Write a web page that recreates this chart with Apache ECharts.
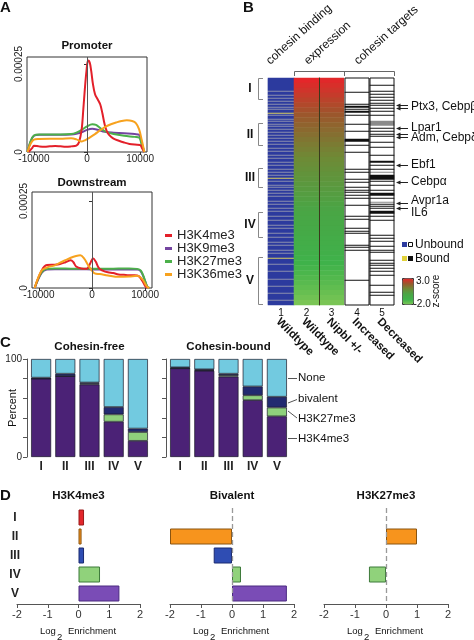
<!DOCTYPE html>
<html><head><meta charset="utf-8">
<script src="https://cdn.jsdelivr.net/npm/echarts@6/dist/echarts.min.js"></script>
<style>html,body{margin:0;padding:0;background:#fff}#c{width:474px;height:640px}</style>
</head><body><div id="c"></div>
<script>
// ================= DATA =================
// Panel A: histone mark profiles (position bp, density)
const histMarks = ['H3K4me3','H3K9me3','H3K27me3','H3K36me3'];
const promoterH3K4me3 = [[-11000,0],[-10300,1.2e-5],[-10000,1.8e-5],[-9000,1.6e-5],[-8000,1.5e-5],[-7000,1.6e-5],[-6000,1.7e-5],[-5000,1.6e-5],[-4000,1.5e-5],[-3000,1.6e-5],[-2000,1.8e-5],[-1500,2.8e-5],[-1000,6.5e-5],[-700,12e-5],[-400,18e-5],[-100,23e-5],[200,26e-5],[500,25.5e-5],[800,23e-5],[1100,19.5e-5],[1500,16.5e-5],[2000,15e-5],[2500,13.5e-5],[2900,11e-5],[3300,8e-5],[3700,6e-5],[4200,4.8e-5],[5000,3.8e-5],[6000,3.2e-5],[7000,2.7e-5],[8000,2.3e-5],[9000,2.1e-5],[10000,2.0e-5],[10400,1.0e-5],[10800,0]];
const promoterH3K9me3 = [[-11200,0],[-10600,3.0e-5],[-10000,4.6e-5],[-9000,4.9e-5],[-7000,4.9e-5],[-5000,4.9e-5],[-3000,5.0e-5],[-2000,5.2e-5],[-1000,5.6e-5],[0,6.3e-5],[1000,6.6e-5],[2000,6.3e-5],[3000,5.8e-5],[4000,5.6e-5],[5000,5.5e-5],[7000,5.3e-5],[9000,5.1e-5],[9800,4.9e-5],[10300,2.5e-5],[10800,0]];
const promoterH3K27me3 = [[-11200,0],[-10600,3.2e-5],[-10000,4.7e-5],[-9000,5.0e-5],[-7000,5.0e-5],[-5000,5.0e-5],[-3000,5.1e-5],[-2000,5.5e-5],[-1000,6.3e-5],[0,7.3e-5],[1000,7.9e-5],[1700,7.7e-5],[2500,6.8e-5],[3500,5.8e-5],[5000,5.1e-5],[7000,4.6e-5],[9000,4.3e-5],[9800,4.1e-5],[10300,2.2e-5],[10800,0]];
const promoterH3K36me3 = [[-11200,0],[-10600,2.4e-5],[-10000,3.5e-5],[-9000,3.7e-5],[-7000,3.8e-5],[-5000,3.8e-5],[-3000,3.9e-5],[-2000,3.6e-5],[-1000,3.0e-5],[-300,3.4e-5],[500,4.1e-5],[1500,5.1e-5],[2500,6.2e-5],[3500,7.2e-5],[4500,7.9e-5],[5500,8.4e-5],[6500,8.8e-5],[7500,9.0e-5],[8500,8.8e-5],[9200,8.2e-5],[9800,6.5e-5],[10300,3.5e-5],[10800,0]];
const downstreamH3K4me3 = [[-10800,0],[-9500,5.0e-5],[-8500,6.6e-5],[-7000,6.7e-5],[-6000,6.9e-5],[-5000,7.4e-5],[-4000,8.0e-5],[-3500,7.4e-5],[-3000,6.2e-5],[-2000,5.6e-5],[-1000,5.5e-5],[-300,7.2e-5],[200,8.5e-5],[700,7.6e-5],[1300,5.7e-5],[2000,5.0e-5],[3000,4.5e-5],[4000,4.3e-5],[5000,3.9e-5],[6000,3.8e-5],[7000,3.7e-5],[8000,3.7e-5],[8800,3.4e-5],[9500,2.0e-5],[10000,0.6e-5],[10400,0]];
const downstreamH3K9me3 = [[-10800,0],[-9500,4.3e-5],[-8500,5.3e-5],[-7000,5.4e-5],[-5000,5.4e-5],[-3000,5.4e-5],[-1000,5.4e-5],[1000,5.3e-5],[3000,5.3e-5],[5000,5.3e-5],[7000,5.3e-5],[8500,5.3e-5],[9200,4.8e-5],[9800,2.8e-5],[10400,0.4e-5],[10800,0]];
const downstreamH3K27me3 = [[-10800,0],[-9500,4.5e-5],[-8500,5.5e-5],[-7000,5.6e-5],[-5000,5.6e-5],[-3000,5.5e-5],[-1000,5.5e-5],[1000,5.5e-5],[3000,5.5e-5],[5000,5.6e-5],[7000,5.6e-5],[8500,5.5e-5],[9200,5.0e-5],[9800,3.0e-5],[10400,0.4e-5],[10800,0]];
const downstreamH3K36me3 = [[-10800,0],[-9500,5.0e-5],[-8500,5.9e-5],[-7000,6.5e-5],[-6000,7.3e-5],[-5000,8.0e-5],[-4000,8.7e-5],[-3000,9.2e-5],[-2200,9.4e-5],[-1500,8.5e-5],[-700,6.5e-5],[0,5.0e-5],[500,4.2e-5],[1500,4.0e-5],[3000,3.6e-5],[5000,3.2e-5],[7000,3.3e-5],[8500,3.5e-5],[9500,2.5e-5],[10300,0.5e-5],[10800,0]];
const profileTicks = [-10000, 0, 10000];
const densityTicks = [0, 0.00025];

// Panel B: ranked genes (rows), cohesin binding, expression z-scores, targets
const N_ROWS = 227;
const boundRows = [13,17,20,23,26,29,31,35,37,41,43,46,48,51,54,57,60,63,66,70,73,77,80,84,87,91,94,97,100,103,107,109,112,115,118,123,126,130,133,138,142,147,150,155,159,164,167,172,175,180,186,193,201,208,215,222];
const boundStrongRows = [35,100,180];
const exprWildtype = [3.0,2.86,2.72,2.58,2.44,2.3,2.16,2.03,1.9,1.78,1.66,1.54,1.42,1.31,1.2,1.09,0.98,0.88,0.78,0.68,0.58,0.48,0.39,0.3,0.21,0.12,0.03,-0.06,-0.15,-0.24,-0.33,-0.42,-0.51,-0.6,-0.7,-0.8,-0.9,-1.0,-1.1,-1.2,-1.31,-1.42,-1.54,-1.66,-1.8,-1.96];
const exprNipbl = [2.95,2.83,2.7,2.57,2.43,2.29,2.15,2.02,1.9,1.77,1.65,1.53,1.42,1.3,1.19,1.08,0.98,0.88,0.78,0.68,0.58,0.49,0.39,0.3,0.21,0.12,0.03,-0.06,-0.15,-0.24,-0.33,-0.42,-0.51,-0.61,-0.7,-0.8,-0.9,-1.0,-1.1,-1.21,-1.31,-1.42,-1.54,-1.67,-1.81,-1.97];
const increasedRows = [14,26,28,29,31,33,34,37,46,53,61,62,63,67,74,91,94,101,104,109,112,114,117,120,127,138,141,150,153,155,167,169,172,202];
const decreasedRows = [7,13,16,19,22,25,27,30,33,37,50,53,56,58,64,69,77,83,84,87,91,97,98,99,100,101,103,107,112,115,116,117,120,126,128,130,133,134,135,138,142,157,160,163,168,172,174,182,185,187,190,193,197,207,214,217];
const decreasedWeakRows = [43,44,45,46,47,94,124];
const columnNumbers = ['1','2','3','4','5'];
const columnNames = ['Wildtype','Wildtype','Nipbl +/-','Increased','Decreased'];
const clusterNames = ['I','II','III','IV','V'];
const clusterRows = [[0,22],[45,68],[90,110],[134,160],[179,227]];
const geneNames = ['Ptx3, Cebpβ','Lpar1','Adm, Cebpδ','Ebf1','Cebpα','Avpr1a','IL6'];
const geneArrowRows = [[26,29],[49],[55,58],[86],[103],[124],[129]];
const geneLabelRows = [28,49,59,86,103,122,134];

// Panel C: percent of genes per class
const classes = ['I','II','III','IV','V'];
const freeH3K4me3 = [80,82.5,74,36,16.5];
const freeH3K27me3 = [0,0,1,7.5,9];
const freeBivalent = [1,2.5,1,7.5,3.5];
const freeNone = [19,15,24,49,71];
const boundH3K4me3 = [90.5,88,82,58,41.5];
const boundH3K27me3 = [0,0.5,1.5,5,9];
const boundBivalent = [1,1,1.5,9,11];
const boundNone = [8.5,10.5,15,28,38.5];

// Panel D: log2 enrichment
const enrichH3K4me3 = [0.18,0.1,0.18,0.7,1.33];
const enrichBivalent = [null,-2.0,-0.59,0.29,1.77];
const enrichH3K27me3 = [null,1.0,null,-0.55,null];

// ================= LAYOUT / STYLE =================
const FONT = '"Liberation Sans", Arial, Helvetica, sans-serif';
const markColors = {H3K4me3:'#e3202a', H3K9me3:'#7444a0', H3K27me3:'#4cb04a', H3K36me3:'#f7a21e'};
const BT = 78, BH = 227;
const bCols = [{left:268,w:26},{left:294,w:25},{left:319,w:25},{left:345,w:24},{left:370,w:24}];
const dRowColors = ['#e3262b','#f7941d','#2f4db3','#90d27b','#7a4cb6'];
const dRowBorders = ['#9a1a1a','#8a5410','#1a2a70','#3d7a3a','#4a2a80'];
const rowY = r => BT + (r + 0.5) * BH / N_ROWS;

const grid = [], xAxis = [], yAxis = [], series = [];
function addGrid(g){ grid.push(g); return grid.length - 1; }

// ---- Panel A ----
const aGrids = [
  addGrid({left:27, top:57, width:120, height:95, show:true, borderColor:'#333', borderWidth:1}),
  addGrid({left:32, top:192, width:120, height:96, show:true, borderColor:'#333', borderWidth:1})
];
const aMax = [0.00027, 0.000276];
aGrids.forEach((gi, k) => {
  xAxis.push({gridIndex:gi, type:'value', min:-11300, max:11300, axisLine:{show:false}, splitLine:{show:false},
    axisTick:{show:true, length:3, customValues:profileTicks, lineStyle:{color:'#333'}},
    axisLabel:{customValues:profileTicks, fontSize:10, color:'#222', margin:2, formatter:v=>String(v)}});
  yAxis.push({gridIndex:gi, type:'value', min:0, max:aMax[k], axisLine:{show:false}, splitLine:{show:false},
    axisTick:{show:true, length:3, customValues:densityTicks, lineStyle:{color:'#333'}},
    axisLabel:{customValues:densityTicks, rotate:90, fontSize:10, color:'#222', margin:3,
      formatter:v=> v===0 ? '0' : String(v)}});
});
const profiles = [
  {H3K9me3:promoterH3K9me3, H3K27me3:promoterH3K27me3, H3K4me3:promoterH3K4me3, H3K36me3:promoterH3K36me3},
  {H3K9me3:downstreamH3K9me3, H3K27me3:downstreamH3K27me3, H3K4me3:downstreamH3K4me3, H3K36me3:downstreamH3K36me3}
];
profiles.forEach((p, k) => {
  ['H3K9me3','H3K27me3','H3K4me3','H3K36me3'].forEach((m, j) => {
    const s = {type:'line', name:m, xAxisIndex:k, yAxisIndex:k, data:p[m], showSymbol:false, smooth:0.35,
      lineStyle:{width:2, color:markColors[m]}, itemStyle:{color:markColors[m]}, z:3};
    if (j === 0) s.markLine = {silent:true, symbol:['none','none'], label:{show:false}, animation:false,
      lineStyle:{color:'#555', width:1, type:'solid'}, data:[{xAxis:0}]};
    series.push(s);
  });
});

// ---- Panel B ----
const rowCats = Array.from({length:N_ROWS}, (_, i) => String(i));
const exprCats = exprWildtype.map((_, i) => String(i));
const bSeriesIdx = [];
bCols.forEach((c, k) => {
  const bordered = k >= 3;
  const gi = addGrid({left:c.left, top:BT, width:c.w, height:BH, show:bordered, borderColor:'#111', borderWidth:1, backgroundColor:'transparent', z:10});
  xAxis.push({gridIndex:gi, type:'category', data:[columnNumbers[k]], show:false});
  yAxis.push({gridIndex:gi, type:'category', data:(k===1||k===2)?exprCats:rowCats, inverse:true, z:10,
    axisLine:{show:k===2, lineStyle:{color:'#3a3a1c', width:1}}, axisTick:{show:false}, axisLabel:{show:false}, splitLine:{show:false}});
  let data;
  if (k === 0) data = rowCats.map((_, r) => [0, r, boundStrongRows.includes(r) ? 2 : (boundRows.includes(r) ? 1 : 0)]);
  else if (k === 1) data = exprWildtype.map((v, r) => [0, r, v]);
  else if (k === 2) data = exprNipbl.map((v, r) => [0, r, v]);
  else if (k === 3) data = rowCats.map((_, r) => [0, r, increasedRows.includes(r) ? 1 : 0]);
  else data = rowCats.map((_, r) => [0, r, decreasedRows.includes(r) ? 1 : (decreasedWeakRows.includes(r) ? 0.5 : 0)]);
  bSeriesIdx.push(series.length);
  series.push({type:'heatmap', xAxisIndex:xAxis.length-1, yAxisIndex:yAxis.length-1, data, progressive:0, emphasis:{disabled:true}});
});

// ---- Panel C ----
const cColors = {H3K4me3:'#4b2276', H3K27me3:'#8fd07c', bivalent:'#222a70', None:'#72cae0'};
const cSets = [
  {left:29, stack:'free', vals:[freeH3K4me3, freeH3K27me3, freeBivalent, freeNone], labels:true},
  {left:168, stack:'bound', vals:[boundH3K4me3, boundH3K27me3, boundBivalent, boundNone], labels:false}
];
cSets.forEach(cs => {
  const gi = addGrid({left:cs.left, top:359, width:121, height:98});
  xAxis.push({gridIndex:gi, type:'category', data:classes, axisLine:{show:false}, axisTick:{show:false},
    axisLabel:{fontSize:12, fontWeight:'bold', color:'#222', margin:4}});
  yAxis.push({gridIndex:gi, type:'value', min:0, max:100, interval:20, offset:2,
    axisLine:{show:true, lineStyle:{color:'#555'}}, axisTick:{show:true, length:4, lineStyle:{color:'#555'}},
    splitLine:{show:false},
    axisLabel:{show:cs.labels, fontSize:10, color:'#222', margin:5, formatter:v=> (v===0||v===100) ? String(v) : ''}});
  ['H3K4me3','H3K27me3','bivalent','None'].forEach((m, j) => {
    series.push({type:'bar', stack:cs.stack, xAxisIndex:xAxis.length-1, yAxisIndex:yAxis.length-1, data:cs.vals[j], barWidth:20,
      itemStyle:{color:cColors[m], borderColor:'#1a1a2a', borderWidth:0.7}});
  });
});

// ---- Panel D ----
const dSets = [
  {left:17, width:123, vals:enrichH3K4me3, title:'H3K4me3', labels:true, zero:false},
  {left:170, width:124, vals:enrichBivalent, title:'Bivalent', labels:false, zero:true},
  {left:324, width:124, vals:enrichH3K27me3, title:'H3K27me3', labels:false, zero:true}
];
dSets.forEach(ds => {
  const gi = addGrid({left:ds.left, top:508, width:ds.width, height:95});
  xAxis.push({gridIndex:gi, type:'value', min:-2, max:2, interval:1, offset:1,
    axisLine:{show:true, lineStyle:{color:'#555'}}, axisTick:{show:true, length:4, lineStyle:{color:'#555'}},
    splitLine:{show:false}, axisLabel:{fontSize:11, color:'#333', margin:5}});
  yAxis.push({gridIndex:gi, type:'category', data:classes, inverse:true, axisLine:{show:false}, axisTick:{show:false},
    axisLabel:{show:ds.labels, fontSize:12, fontWeight:'bold', color:'#222', align:'center', margin:2}});
  const s = {type:'bar', xAxisIndex:xAxis.length-1, yAxisIndex:yAxis.length-1, barWidth:16,
    data: ds.vals.map((v, i) => ({value:v, itemStyle:{color:dRowColors[i], borderColor:dRowBorders[i], borderWidth:1}}))};
  if (ds.zero) s.markLine = {silent:true, symbol:['none','none'], label:{show:false}, animation:false,
    lineStyle:{color:'#999', width:1.3, type:[5,3]}, data:[{xAxis:0}]};
  series.push(s);
});

// ================= GRAPHIC ANNOTATIONS =================
function T(text, x, y, size, o){ o = o || {};
  return {type:'text', x, y, rotation:o.rot||0, z:100, silent:true,
    style:{text, fill:o.fill||'#111', font:(o.bold?'bold ':'')+size+'px '+FONT, align:o.align||'left', verticalAlign:o.va||'middle'}}; }
function PL(points, o){ o = o || {};
  return {type:'polyline', z:100, silent:true, shape:{points}, style:{stroke:o.stroke||'#555', lineWidth:o.w||1, fill:null}}; }
function RC(x, y, w, h, fill, stroke){
  return {type:'rect', z:100, silent:true, shape:{x, y, width:w, height:h}, style:{fill, stroke:stroke||null, lineWidth:stroke?1:0}}; }
function PG(points, fill){ return {type:'polygon', z:100, silent:true, shape:{points}, style:{fill}}; }
const deg = Math.PI / 180;
const g = [];
// panel letters
g.push(T('A', 0, 8, 15, {bold:true}), T('B', 243, 8, 15, {bold:true}), T('C', 0, 343, 15, {bold:true}), T('D', 0, 496, 15, {bold:true}));
// A titles
g.push(T('Promoter', 87, 46, 11.5, {bold:true, align:'center'}), T('Downstream', 92, 183, 11.5, {bold:true, align:'center'}));
// B headers
g.push(T('cohesin binding', 272, 67, 12, {rot:42*deg, va:'bottom'}),
       T('expression', 310, 67, 12, {rot:42*deg, va:'bottom'}),
       T('cohesin targets', 360, 67, 12, {rot:42*deg, va:'bottom'}));
g.push(PL([[294.5,76],[294.5,71.5],[394.5,71.5],[394.5,76]], {stroke:'#666'}), PL([[344.5,71.5],[344.5,76]], {stroke:'#666'}));
// B clusters
clusterRows.forEach((cr, i) => {
  const y0 = BT + cr[0] * BH / N_ROWS + 0.5, y1 = BT + cr[1] * BH / N_ROWS - 0.5;
  g.push(PL([[263,y0],[258.5,y0],[258.5,y1],[263,y1]], {stroke:'#888'}));
  g.push(T(clusterNames[i], 250, (y0 + y1) / 2, 12, {bold:true, align:'center'}));
});
// B genes
geneNames.forEach((name, i) => {
  geneArrowRows[i].forEach(r => {
    const y = Math.round(rowY(r)) + 0.5;
    g.push(PL([[399,y],[408,y]], {stroke:'#222'}), PG([[396,y],[400.5,y-2],[400.5,y+2]], '#222'));
  });
  g.push(T(name, 411, rowY(geneLabelRows[i]), 12));
});
// B legend
g.push(RC(402,242,5,5,'#2c3b9f'), RC(408.5,242.5,4,4,'#fff','#111'), T('Unbound', 415, 244.5, 12));
g.push(RC(402,256,5,5,'#e2d23a'), RC(408,256,5,5,'#111'), T('Bound', 415, 258.5, 12));
g.push(T('3.0', 416, 281, 10), T('-2.0', 413.5, 304, 10), T('z-score', 436, 291, 10, {rot:90*deg, align:'center'}));
// B column numbers and names
bCols.forEach((c, k) => {
  const cx = c.left + c.w / 2;
  g.push(T(columnNumbers[k], cx, 313, 10, {align:'center'}));
  g.push(T(columnNames[k], cx - 3, 320, 11.5, {bold:true, rot:-45*deg}));
});
// C titles and labels
g.push(T('Cohesin-free', 89.5, 347, 11.5, {bold:true, align:'center'}), T('Cohesin-bound', 228.5, 347, 11.5, {bold:true, align:'center'}));
g.push(T('Percent', 12.5, 408, 11, {rot:90*deg, align:'center'}));
g.push(PL([[288,378.5],[297,378.5]]), T('None', 298, 378, 11.5));
g.push(PL([[288,403],[297,399.5]]), T('bivalent', 298, 399, 11.5));
g.push(PL([[288,411],[297,418]]), T('H3K27me3', 298, 418.5, 11.5));
g.push(PL([[288,438.5],[297,438.5]]), T('H3K4me3', 298, 438.5, 11.5));
// D titles and axis names
dSets.forEach(ds => {
  g.push(T(ds.title, ds.left + ds.width / 2, 496, 11.5, {bold:true, align:'center'}));
  g.push(T('Log', ds.left + 23, 631, 9.5), T('2', ds.left + 40, 637, 9.5), T('Enrichment', ds.left + 51, 631, 9.5));
});

// ================= OPTION =================
const option = {
  animation:false,
  backgroundColor:'#fff',
  textStyle:{fontFamily:FONT},
  legend:{data:histMarks, left:165, top:229, orient:'vertical', icon:'rect', itemWidth:7, itemHeight:3, itemGap:0,
    padding:0, selectedMode:false, textStyle:{fontSize:13, lineHeight:12, color:'#222'}},
  visualMap:[
    {type:'piecewise', show:false, seriesIndex:bSeriesIdx[0], dimension:2,
      pieces:[{value:0, color:'#2c3b9f'},{value:1, color:'#8a8fae'},{value:2, color:'#d8cd60'}]},
    {type:'continuous', show:true, seriesIndex:[bSeriesIdx[1], bSeriesIdx[2]], dimension:2, min:-2, max:3,
      calculable:false, left:402, top:278, itemWidth:11, itemHeight:26, padding:0, borderColor:'#333', borderWidth:1,
      text:null, hoverLink:false,
      inRange:{color:['#7cc655','#3fb24a','#4aa545','#6e8a36','#9a582c','#e5262a']}},
    {type:'piecewise', show:false, seriesIndex:[bSeriesIdx[3], bSeriesIdx[4]], dimension:2,
      pieces:[{value:0, color:'#ffffff'},{value:0.5, color:'#8a8a8a'},{value:1, color:'#111111'}]}
  ],
  grid, xAxis, yAxis, series,
  graphic:{elements:g}
};
const chart = echarts.init(document.getElementById('c'), null, {renderer:'canvas'});
chart.setOption(option);
</script></body></html>
